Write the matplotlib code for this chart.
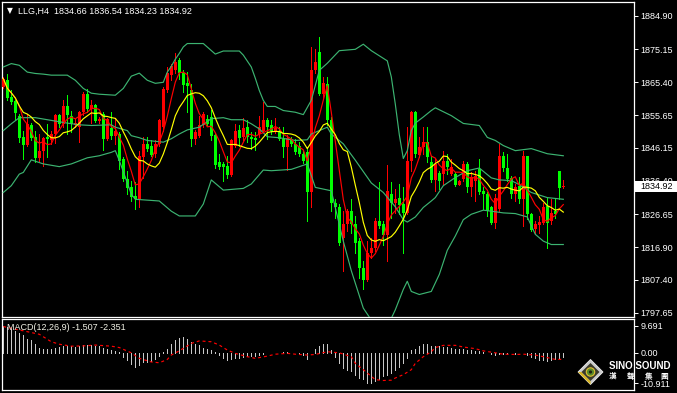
import matplotlib
matplotlib.use("Agg")
import matplotlib.pyplot as plt
import numpy as np
import pandas as pd
from matplotlib.patches import Polygon, Rectangle, Circle

plt.rcParams['font.family'] = ['Liberation Sans', 'DejaVu Sans', 'Noto Sans CJK TC']

W, H = 677, 393

# H4 candles, oldest first
opens = [1864.0, 1866.0, 1861.1, 1859.9, 1855.4, 1849.3, 1847.1, 1852.7, 1849.4, 1843.1,
         1845.3, 1849.4, 1848.3, 1850.2, 1855.7, 1853.2, 1858.3, 1855.6, 1852.7, 1852.2,
         1856.6, 1861.9, 1857.6, 1858.6, 1854.0, 1856.0, 1848.8, 1852.0, 1849.7, 1850.2,
         1842.9, 1836.9, 1834.7, 1832.0, 1831.0, 1843.5, 1847.3, 1846.8, 1844.3, 1847.3,
         1852.2, 1863.0, 1867.5, 1869.0, 1871.9, 1868.0, 1865.2, 1863.2, 1848.8, 1849.7,
         1852.7, 1854.7, 1855.2, 1850.0, 1841.9, 1841.4, 1840.9, 1838.2, 1846.8, 1851.4,
         1849.4, 1852.2, 1849.4, 1849.1, 1850.2, 1851.2, 1854.4, 1852.7, 1851.0, 1851.0,
         1848.8, 1846.3, 1848.8, 1847.3, 1846.8, 1844.3, 1844.8, 1833.0, 1869.1, 1874.4,
         1862.1, 1865.0, 1854.4, 1830.0, 1828.6, 1819.7, 1823.6, 1827.6, 1823.6, 1818.7,
         1810.9, 1807.4, 1815.3, 1816.8, 1824.6, 1823.8, 1820.5, 1832.5, 1830.0, 1831.3,
         1829.6, 1827.1, 1842.2, 1856.6, 1844.1, 1846.3, 1847.8, 1841.9, 1836.6, 1838.6,
         1838.4, 1842.2, 1838.4, 1838.4, 1835.3, 1836.9, 1841.4, 1834.5, 1836.4, 1839.9,
         1833.5, 1832.5, 1828.6, 1824.1, 1828.1, 1843.8, 1840.2, 1837.4, 1832.5, 1835.0,
         1831.0, 1843.8, 1826.8, 1822.2, 1823.4, 1824.1, 1829.1, 1824.6, 1827.6, 1839.4,
         1834.66]
highs = [1867.0, 1867.8, 1863.0, 1860.1, 1856.1, 1851.2, 1856.0, 1853.4, 1851.2, 1850.2,
         1849.3, 1853.0, 1851.2, 1856.1, 1856.1, 1860.1, 1861.6, 1857.1, 1854.7, 1857.1,
         1862.5, 1863.5, 1860.1, 1859.1, 1855.2, 1856.6, 1855.0, 1856.8, 1855.0, 1850.7,
         1843.3, 1839.4, 1836.5, 1836.0, 1845.3, 1849.3, 1849.4, 1848.3, 1848.5, 1854.7,
         1864.0, 1869.9, 1870.9, 1873.9, 1872.4, 1869.0, 1868.4, 1865.0, 1851.4, 1855.4,
         1856.6, 1855.7, 1857.3, 1850.4, 1844.3, 1841.9, 1843.8, 1848.8, 1853.2, 1852.7,
         1855.0, 1854.2, 1850.7, 1850.7, 1855.4, 1859.6, 1855.0, 1854.2, 1855.0, 1852.2,
         1852.2, 1850.0, 1849.4, 1848.8, 1847.8, 1845.3, 1846.3, 1875.8, 1875.3, 1878.8,
         1867.0, 1867.0, 1855.2, 1831.0, 1829.6, 1827.6, 1828.1, 1831.0, 1826.1, 1819.7,
         1812.8, 1818.7, 1819.7, 1825.6, 1836.0, 1824.6, 1841.2, 1836.0, 1834.0, 1835.5,
         1834.5, 1852.2, 1857.1, 1857.1, 1849.3, 1852.2, 1852.2, 1843.8, 1842.9, 1839.4,
         1845.3, 1844.3, 1842.9, 1838.9, 1836.6, 1842.2, 1841.9, 1838.9, 1839.4, 1842.9,
         1834.5, 1833.0, 1829.1, 1832.5, 1847.3, 1844.8, 1844.3, 1837.9, 1835.5, 1837.6,
         1845.3, 1843.8, 1827.1, 1824.6, 1826.1, 1830.0, 1831.5, 1831.0, 1831.0, 1839.4,
         1836.54]
lows = [1863.8, 1860.1, 1859.1, 1854.7, 1847.8, 1842.9, 1846.8, 1848.3, 1841.9, 1842.4,
        1840.9, 1843.3, 1847.3, 1847.5, 1852.2, 1852.2, 1850.2, 1850.7, 1852.2, 1847.8,
        1855.7, 1856.6, 1853.4, 1853.7, 1853.4, 1845.5, 1848.3, 1848.8, 1847.3, 1839.9,
        1836.5, 1832.5, 1830.5, 1828.1, 1828.6, 1837.4, 1845.3, 1843.8, 1843.3, 1846.8,
        1851.2, 1862.5, 1866.0, 1868.0, 1866.5, 1862.5, 1856.6, 1846.8, 1847.3, 1849.3,
        1852.2, 1852.7, 1848.3, 1840.2, 1839.9, 1836.5, 1837.4, 1837.9, 1846.3, 1846.8,
        1848.3, 1847.8, 1845.8, 1845.5, 1849.4, 1850.7, 1848.8, 1850.2, 1850.4, 1848.3,
        1843.3, 1839.6, 1846.8, 1844.3, 1843.8, 1841.6, 1824.6, 1828.6, 1868.0, 1861.8,
        1860.6, 1852.7, 1827.6, 1825.6, 1817.7, 1809.9, 1821.7, 1821.2, 1815.3, 1807.9,
        1804.5, 1806.9, 1813.8, 1815.8, 1822.7, 1817.7, 1812.8, 1825.6, 1827.1, 1826.6,
        1815.3, 1826.6, 1839.4, 1843.3, 1843.3, 1844.3, 1841.9, 1836.0, 1833.5, 1834.0,
        1835.5, 1838.4, 1838.0, 1835.0, 1835.1, 1836.4, 1833.0, 1832.0, 1830.5, 1832.5,
        1828.1, 1826.1, 1823.6, 1822.7, 1827.6, 1839.4, 1836.4, 1831.5, 1830.5, 1830.0,
        1823.2, 1825.1, 1821.7, 1821.2, 1821.2, 1823.6, 1816.7, 1823.6, 1825.6, 1831.0,
        1834.23]
closes = [1866.5, 1860.8, 1859.6, 1856.3, 1849.1, 1847.1, 1853.0, 1849.1, 1843.1, 1845.3,
          1849.1, 1848.8, 1850.2, 1855.7, 1853.0, 1858.3, 1855.7, 1853.0, 1853.4, 1856.6,
          1862.1, 1857.6, 1858.6, 1854.0, 1854.7, 1848.8, 1854.7, 1849.7, 1851.2, 1842.2,
          1836.9, 1834.3, 1831.7, 1831.0, 1843.8, 1847.3, 1845.8, 1844.1, 1847.3, 1854.2,
          1863.5, 1868.0, 1870.1, 1871.4, 1868.0, 1864.5, 1864.2, 1848.8, 1850.7, 1852.7,
          1856.1, 1853.2, 1849.7, 1841.2, 1840.4, 1840.4, 1838.2, 1848.3, 1851.2, 1849.1,
          1852.0, 1849.4, 1848.8, 1848.3, 1852.2, 1854.4, 1852.2, 1851.2, 1852.0, 1848.8,
          1846.3, 1849.1, 1847.3, 1844.8, 1844.3, 1842.2, 1833.0, 1869.1, 1871.4, 1862.1,
          1865.2, 1854.2, 1830.0, 1828.6, 1818.2, 1823.8, 1827.6, 1823.6, 1818.2, 1810.9,
          1807.4, 1815.3, 1816.8, 1824.6, 1823.2, 1820.5, 1833.5, 1830.0, 1831.0, 1829.4,
          1827.1, 1842.2, 1856.6, 1844.3, 1846.5, 1847.8, 1843.3, 1836.6, 1841.4, 1836.3,
          1842.2, 1840.6, 1840.4, 1835.3, 1836.4, 1841.4, 1834.5, 1837.6, 1837.9, 1833.0,
          1832.5, 1827.6, 1824.1, 1831.5, 1843.8, 1840.2, 1836.9, 1832.5, 1834.7, 1831.0,
          1843.8, 1826.6, 1821.9, 1823.6, 1824.4, 1828.6, 1824.1, 1827.1, 1826.8, 1834.3,
          1834.92]

# Bollinger bands (bar index, price)
upper_k = [0, 2, 4, 6, 8, 10, 12, 16, 18, 20, 22, 24, 28, 30, 32, 34, 36, 38, 40, 41,
           42, 43, 44, 45, 46, 50, 53, 55, 59, 60, 62, 63, 64, 65, 66, 68, 70, 73, 75, 77,
           78, 79, 81, 84, 88, 90, 92, 96, 97, 98, 99, 100, 101, 102, 103, 105, 107, 108, 112, 115,
           119, 121, 123, 125, 128, 132, 136, 140]
upper_v = [1869.9, 1870.9, 1870.4, 1868.4, 1868.0, 1867.8, 1867.5, 1867.5, 1866.0, 1863.6,
           1862.2, 1861.9, 1861.6, 1863.6, 1867.2, 1868.1, 1866.0, 1865.1, 1865.4, 1868.4,
           1870.1, 1872.2, 1873.9, 1875.8, 1876.8, 1876.8, 1873.7, 1874.6, 1874.6, 1873.4,
           1869.9, 1866.6, 1863.0, 1860.1, 1858.3, 1858.3, 1857.1, 1856.6, 1855.9, 1860.1,
           1864.5, 1868.9, 1871.0, 1874.7, 1875.1, 1876.6, 1874.7, 1871.7, 1867.0, 1859.0, 1850.0,
           1843.0, 1845.3, 1851.2, 1853.4, 1855.2, 1857.1, 1857.9, 1855.6, 1853.3, 1852.7,
           1849.2, 1848.3, 1846.8, 1845.3, 1845.9, 1844.4, 1843.8]
mid_k = [0, 2, 4, 8, 11, 12, 16, 19, 22, 27, 28, 31, 32, 34, 36, 40, 42, 44, 46, 49,
         52, 55, 57, 60, 62, 64, 66, 69, 73, 76, 77, 79, 81, 82, 85, 88, 92, 95, 98, 100,
         101, 103, 105, 107, 108, 110, 113, 116, 119, 122, 124, 127, 129, 132, 136, 140]
mid_v = [1851.2, 1853.2, 1855.0, 1855.0, 1854.4, 1854.2, 1853.4, 1852.9, 1852.7, 1852.9,
         1852.2, 1851.2, 1849.7, 1849.1, 1848.3, 1847.8, 1848.8, 1850.2, 1851.4, 1852.2,
         1854.7, 1855.0, 1854.4, 1854.4, 1853.2, 1851.7, 1849.4, 1849.1, 1848.3, 1848.5,
         1850.2, 1851.2, 1852.2, 1850.2, 1847.3, 1842.5, 1835.8, 1833.0, 1828.8, 1825.0,
         1824.3, 1825.8, 1828.6, 1830.5, 1831.5, 1835.0, 1837.4, 1839.4, 1840.2, 1837.3,
         1836.7, 1836.5, 1835.3, 1833.0, 1831.5, 1831.0]
lower_k = [0, 2, 4, 5, 7, 10, 14, 17, 21, 24, 27, 28, 29, 32, 33, 39, 42, 44, 48, 50,
           52, 55, 60, 62, 65, 67, 72, 76, 78, 82, 85, 87, 90, 92, 94, 96, 98, 100, 101, 102,
           104, 107, 109, 111, 113, 115, 117, 120, 122, 125, 128, 131, 133, 135, 137, 140]
lower_v = [1833.0, 1835.0, 1838.4, 1838.9, 1842.6, 1841.4, 1840.6, 1841.4, 1843.2, 1843.8,
           1844.8, 1845.3, 1842.4, 1832.5, 1831.0, 1830.5, 1827.5, 1826.1, 1826.1, 1829.6,
           1836.7, 1833.7, 1834.2, 1835.5, 1839.6, 1839.4, 1839.8, 1841.4, 1834.5, 1833.5,
           1818.7, 1810.0, 1799.0, 1795.5, 1792.5, 1793.5, 1798.5, 1804.5, 1806.9, 1803.9,
           1803.0, 1803.9, 1808.9, 1816.0, 1820.2, 1825.0, 1826.6, 1827.8, 1827.5, 1827.0,
           1826.8, 1825.8, 1820.7, 1818.7, 1817.7, 1817.7]

# MACD(12,26,9) histogram and signal
macd = [9.691, 9.4, 8.6, 7.8, 7.3, 6.3, 5.1, 4.5, 3.3, 1.9,
        1.5, 1.5, 1.5, 1.9, 2.1, 2.5, 2.4, 2.4, 2.1, 2.4,
        2.7, 2.7, 2.7, 2.4, 2.4, 1.9, 1.5, 0.9, 0.5, 0.4,
        -1.4, -2.6, -4.0, -5.0, -4.4, -3.5, -3.2, -2.8, -2.4, -1.2,
        0.2, 1.5, 3.3, 4.5, 5.4, 5.7, 5.1, 3.9, 3.3, 2.7,
        1.9, 1.5, 0.9, 0.2, -0.8, -2.0, -2.6, -2.4, -2.0, -1.7,
        -1.4, -1.2, -1.2, -1.1, -0.8, -0.5, -0.2, -0.2, -0.1, 0.0,
        0.2, 0.2, 0.1, -0.2, -0.5, -0.7, -2.4, -0.2, 1.5, 2.4,
        3.3, 3.3, 0.9, -1.4, -3.8, -5.5, -6.1, -6.7, -7.9, -9.0,
        -9.6, -10.8, -10.911, -10.2, -9.6, -8.5, -7.9, -7.3, -6.1, -5.0,
        -3.8, -2.0, 0.9, 1.5, 2.4, 3.1, 3.3, 2.4, 2.4, 2.4,
        2.1, 2.1, 1.9, 1.5, 1.2, 1.2, 0.9, 0.9, 0.7, 0.5,
        0.2, 0.0, -0.5, -0.8, -0.5, -0.5, -0.5, -0.1, -0.5, -0.2,
        -0.1, -0.7, -1.4, -2.0, -2.6, -2.6, -2.8, -2.6, -2.4, -2.0,
        -1.507]
sig_k = [0, 9, 12, 14, 17, 20, 23, 27, 29, 32, 34, 37, 39, 41, 42, 44, 47, 49, 52, 54,
         56, 58, 61, 63, 66, 68, 71, 73, 76, 78, 81, 84, 87, 88, 90, 92, 93, 95, 97, 98,
         100, 102, 103, 105, 107, 108, 110, 113, 115, 118, 120, 123, 125, 128, 130, 133, 135, 138, 140]
sig_v = [9.5, 6.7, 4.0, 3.1, 2.4, 2.5, 2.8, 2.4, 1.9, 0.0, -2.0, -3.3, -3.6, -2.4, -0.8, 0.7,
         3.4, 4.3, 4.0, 2.8, 1.0, -0.2, -1.4, -2.0, -1.2, -0.5, -0.2, -0.5, -0.8, -0.6,
         0.4, 0.0, -1.4, -3.8, -6.1, -8.5, -9.7, -10.0, -9.9, -9.1, -7.9, -6.1, -3.8, -1.4,
         0.4, 1.9, 2.7, 2.7, 2.1, 1.5, 0.7, 0.0, -0.5, -0.6, -0.5, -0.8, -1.4, -2.4, -2.351]

price_ticks = [1884.90, 1875.15, 1865.40, 1855.65, 1846.15, 1836.40, 1826.65, 1816.90, 1807.40, 1797.65]
macd_ticks = [9.691, 0.00, -10.911]
macd_labels = ['9.691', '0.00', '-10.911']
symbol = 'LLG,H4'
last_close = 1834.92


def px_rect(x0, y0, x1, y1):
    return [x0 / W, 1 - y1 / H, (x1 - x0) / W, (y1 - y0) / H]


def style_axes(a):
    a.set_facecolor('black')
    for s in a.spines.values():
        s.set_color('white')
        s.set_linewidth(0.9)
    a.yaxis.tick_right()
    a.tick_params(axis='y', colors='white', labelcolor='white', labelsize=6.5,
                  length=3, width=0.7, pad=1.5, direction='out')
    a.tick_params(axis='x', bottom=False, labelbottom=False)


fig = plt.figure(figsize=(W / 100, H / 100), dpi=100, facecolor='black')
ax = fig.add_axes(px_rect(2, 2, 634, 316.7))
mx = fig.add_axes(px_rect(2, 319, 634, 390))
style_axes(ax)
style_axes(mx)

x = np.arange(len(closes))
o = np.array(opens)
h = np.array(highs)
l = np.array(lows)
c = np.array(closes)
cols = np.where(c >= o, '#ff0000', '#00ff00')

ax.vlines(x, l, h, colors=cols, linewidth=0.6, antialiased=False, zorder=3)
ax.bar(x, np.maximum(np.abs(c - o), 0.3), bottom=np.minimum(o, c), width=0.75,
       color=cols, linewidth=0, antialiased=False, zorder=4)

LINE = 0.85
band_col = '#3cb371'
for bk, bv in [(upper_k, upper_v), (mid_k, mid_v), (lower_k, lower_v)]:
    ax.plot(bk, bv, color=band_col, lw=LINE, zorder=5)

cs = pd.Series(closes)
ax.plot(x, cs.rolling(5, min_periods=1).mean(), color='#ff0000', lw=LINE, zorder=6)
ax.plot(x, cs.rolling(10, min_periods=1).mean(), color='#ffff00', lw=LINE, zorder=6)

x_left = -(3.3 - 2) / 4
x_right = x_left + 632 / 4
ax.set_xlim(x_left, x_right)
ax.set_ylim(1884.90 - 301 / 3.404, 1884.90 + 14 / 3.404)
ax.set_yticks(price_ticks)
ax.set_yticklabels(['%.2f' % t for t in price_ticks])

mx.vlines(x, 0, macd, colors='#c8c8c8', linewidth=0.6, antialiased=False)
mx.plot(sig_k, sig_v, color='#ff0000', lw=LINE, dashes=(2.5, 2.5))
mx.set_xlim(x_left, x_right)
mx.set_ylim(-10.911 - 7 / 2.767, 9.691 + 7 / 2.767)
mx.set_yticks(macd_ticks)
mx.set_yticklabels(macd_labels)

# overlay in pixel coordinates for texts, price box and logo
ov = fig.add_axes([0, 0, 1, 1])
ov.set_xlim(0, W)
ov.set_ylim(H, 0)
ov.axis('off')
ov.patch.set_alpha(0)

ov.text(7, 11, '▼', color='white', fontsize=5.5, va='center', ha='left', family=['DejaVu Sans'])
ov.text(18, 11, '%s  %.2f %.2f %.2f %.2f' % (symbol, opens[-1], highs[-1], lows[-1], closes[-1]),
        color='white', fontsize=6.5, va='center', ha='left')
ov.text(7, 327, 'MACD(12,26,9) %.3f %.3f' % (macd[-1], sig_v[-1]),
        color='#f2f2e6', fontsize=6.5, va='center', ha='left')

ov.add_patch(Rectangle((635, 181), 42, 11, facecolor='white', edgecolor='none'))
ov.text(640, 186.5, '%.2f' % last_close, color='black', fontsize=6.5, va='center', ha='left')

# Sino Sound logo
cx, cy, r = 590.5, 372, 12.5
ov.add_patch(Polygon([(cx, cy - r), (cx + r, cy), (cx, cy + r), (cx - r, cy)],
                     closed=True, facecolor='#c9c9c9', edgecolor='#eeeeee', lw=0.6))
ri = 9
ov.add_patch(Polygon([(cx - r, cy), (cx, cy + r), (cx, cy + ri), (cx - ri, cy)],
                     closed=True, facecolor='#d8b420', edgecolor='none'))
ov.add_patch(Polygon([(cx, cy - ri), (cx + ri, cy), (cx, cy + ri), (cx - ri, cy)],
                     closed=True, facecolor='#3b3a2c', edgecolor='none'))
ov.add_patch(Circle((cx, cy), 4.2, facecolor='#5a8a2a', edgecolor='#e0c030', lw=0.8))
ov.add_patch(Circle((cx, cy), 1.6, facecolor='#202010', edgecolor='none'))
ov.text(609, 366, 'SINO SOUND', color='white', fontsize=7, fontweight='bold', va='center', ha='left')
for ch, xx in zip(['漢', '聲', '集', '團'], [613, 631, 649, 664]):
    ov.text(xx, 376.5, ch, color='white', fontsize=5.5, fontweight='bold', va='center', ha='center',
            family=['Noto Sans CJK TC'])

fig.savefig('out.png', dpi=100, facecolor='black')
